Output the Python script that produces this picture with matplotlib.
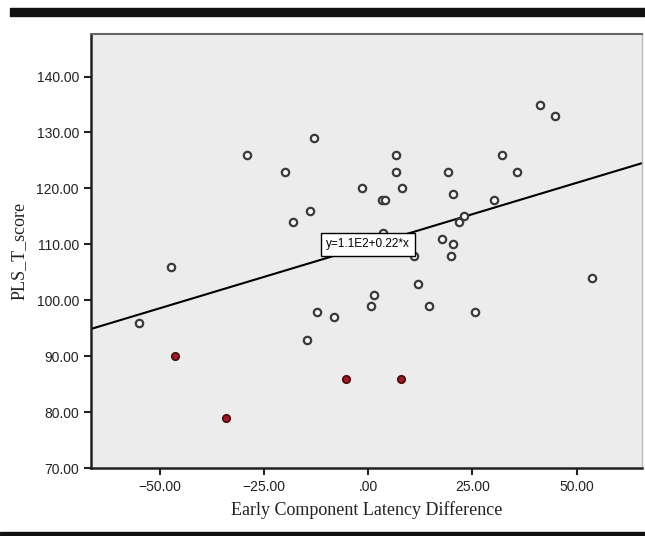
import matplotlib
matplotlib.use("Agg")
import matplotlib.pyplot as plt
from matplotlib.ticker import FuncFormatter
import numpy as np

# hollow points (regular cases)
x_open = [-29, -13, -20, -1.6, 3.2, 4.0, -14, -18, 41.3, 44.8, 6.7, 6.7,
          8.1, 19.1, 20.4, 32.1, 35.7, 30.3, 23, 21.8, 3.6, 11, 17.6, 20.3,
          19.8, 12, 1.4, 53.6, 25.6, -47.4, -55.1, -14.6, -12.4, -8.2, 0.6, 14.6]
y_open = [126, 129, 123, 120, 118, 118, 116, 114, 135, 133, 126, 123,
          120, 123, 119, 126, 123, 118, 115, 114, 112, 108, 111, 110,
          108, 103, 101, 104, 98, 106, 96, 93, 98, 97, 99, 99]

# highlighted (red) points
x_red = [-46.4, -34.2, -5.4, 7.8]
y_red = [90, 79, 86, 86]

# fit line
intercept = 109.8
slope = 0.224
fit_label = "y=1.1E2+0.22*x"

x_ticks = [-50, -25, 0, 25, 50]
y_ticks = [70, 80, 90, 100, 110, 120, 130, 140]

fig = plt.figure(figsize=(6.45, 5.36), dpi=100)
ax = fig.add_axes([0.1406, 0.1263, 0.8547, 0.8103])
ax.set_facecolor("#ececec")

xlim = (-66.6, 65.7)
ax.set_xlim(*xlim)
ax.set_ylim(70, 147.6)

xs = np.array(xlim)
ax.plot(xs, intercept + slope * xs, color="black", lw=1.5, zorder=2)

ax.scatter(x_open, y_open, s=28, facecolor="#f6f6f6", edgecolor="#3a3a3a",
           linewidths=1.6, zorder=3)
ax.scatter(x_red, y_red, s=28, facecolor="#a3172a", edgecolor="#4a1010",
           linewidths=1.3, zorder=3)

ax.text(0, 110, fit_label, ha="center", va="center", fontsize=8.5,
        family="Liberation Sans", zorder=4,
        bbox=dict(boxstyle="square,pad=0.45", fc="white", ec="black", lw=1))

def fmt(v, pos):
    s = f"{v:.2f}"
    if abs(v) < 0.005:
        return ".00"
    return s.replace("-", "\u2212")

ax.xaxis.set_major_formatter(FuncFormatter(fmt))
ax.yaxis.set_major_formatter(FuncFormatter(fmt))
ax.set_xticks(x_ticks)
ax.set_yticks(y_ticks)
ax.tick_params(axis="both", direction="out", length=5, width=1.5,
               color="#222222", labelsize=10, labelcolor="#222222")
for lab in ax.get_xticklabels() + ax.get_yticklabels():
    lab.set_family("Liberation Sans")

for side in ["left", "bottom"]:
    ax.spines[side].set_color("#222222")
    ax.spines[side].set_linewidth(1.8)
ax.spines["top"].set_color("#666666")
ax.spines["top"].set_linewidth(1.5)
ax.spines["right"].set_color("#bbbbbb")
ax.spines["right"].set_linewidth(1)

ax.set_xlabel("Early Component Latency Difference", family="Liberation Serif",
              fontsize=13, color="#222222", labelpad=5)
ax.set_ylabel("PLS_T_score", family="Liberation Serif", fontsize=13,
              color="#222222", labelpad=6)

# journal rules at top and bottom
fig.add_artist(plt.Rectangle((0.016, 1 - 16 / 536), 0.984, 8 / 536,
                             transform=fig.transFigure, color="#111111"))
fig.add_artist(plt.Rectangle((0.0, 0.0), 1.0, 4 / 536,
                             transform=fig.transFigure, color="#111111"))

fig.savefig("out.png", dpi=100)
